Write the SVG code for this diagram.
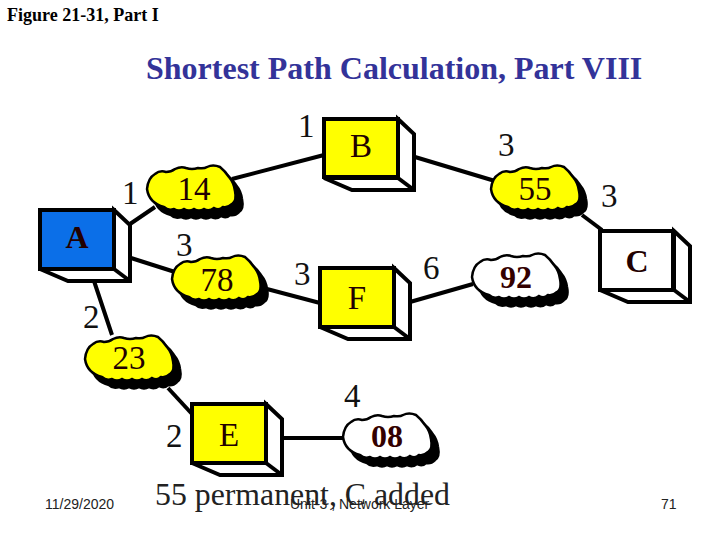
<svg xmlns="http://www.w3.org/2000/svg" width="720" height="540" viewBox="0 0 720 540">
<style>
.s{font-family:"Liberation Serif",serif;fill:#000}
.w{font-size:33px;fill:#111}
.n{font-size:33px;fill:#200}
.l{font-size:32px;fill:#200;font-weight:bold}
.nb{font-size:32px;fill:#300;font-weight:bold}
.f{font-family:"Liberation Sans",Arial,sans-serif;font-size:14px;fill:#222}
.c{stroke:#000;stroke-width:4;fill:none}
.b{stroke:#000;stroke-width:4;stroke-linejoin:miter}
.y{fill:#ffff00}
.e{fill:#fff}
</style>
<defs>
<path id="cloud" d="M0,24 Q1,13 8,9 Q13,5 19,7 Q24,7 28,4 Q34,1 39,3 Q45,5 51,3 Q57,4 60,2 Q66,-1 73,2 Q78,6 82,12 Q87,18 88,26 Q90,36 85,39 Q81,43 76,42 Q72,46 67,43 Q62,47 57,44 Q52,47 47,44 Q42,47 37,44 Q32,47 27,44 Q21,46 17,42 Q2,38 0,24Z"/>
<g id="side"><path class="b" fill="#fff" d="M74,0 L90,15 L90,71 L28,71 L0,59 L74,59 Z"/><path class="b" fill="none" d="M74,59 L90,71"/></g>
<g id="shadow"><use href="#cloud" transform="translate(7,8)" fill="#000" stroke="#000" stroke-width="2.5"/></g>
</defs>
<text class="s" x="7" y="21" font-size="18" font-weight="bold">Figure 21-31, Part I</text>
<text class="s" x="146" y="79" font-size="32" font-weight="bold" style="fill:#333399">Shortest Path Calculation, Part VIII</text>
<g id="connectors">
<path class="c" d="M130,224 L155,207"/>
<path class="c" d="M232,179 L324,155"/>
<path class="c" d="M131,258 L175,272"/>
<path class="c" d="M267,289 L320,303"/>
<path class="c" d="M415,157 L495,181"/>
<path class="c" d="M582,215 L602,230"/>
<path class="c" d="M410,302 L473,284"/>
<path class="c" d="M94,281 L112,335"/>
<path class="c" d="M168,388 L192,414"/>
<path class="c" d="M282,438 L343,438"/>
</g>
<g id="node-A" transform="translate(40,210)"><use href="#side"/><rect class="b" width="74" height="59" fill="#0b6fe8"/><text class="s l" x="37" y="38" text-anchor="middle">A</text></g>
<g id="node-B" transform="translate(324,119)"><use href="#side"/><rect class="b y" width="74" height="58"/><text class="s n" x="37" y="38" text-anchor="middle">B</text></g>
<g id="node-C" transform="translate(600,231)"><use href="#side"/><rect class="b e" width="73" height="59"/><text class="s l" x="37" y="41" text-anchor="middle">C</text></g>
<g id="node-F" transform="translate(320,268)"><use href="#side"/><rect class="b y" width="74" height="59"/><text class="s n" x="37" y="41" text-anchor="middle">F</text></g>
<g id="node-E" transform="translate(192,404)"><use href="#side"/><rect class="b y" width="74" height="59"/><text class="s n" x="37" y="42" text-anchor="middle">E</text></g>
<g id="cloud-14" transform="translate(147,165)"><use href="#shadow"/><use href="#cloud" class="y" stroke="#000" stroke-width="2.5"/><text class="s n" x="47" y="35" text-anchor="middle">14</text></g>
<g id="cloud-78" transform="translate(172,255)"><use href="#shadow"/><use href="#cloud" class="y" stroke="#000" stroke-width="2.5"/><text class="s n" x="45" y="36" text-anchor="middle">78</text></g>
<g id="cloud-55" transform="translate(491,165)"><use href="#shadow"/><use href="#cloud" class="y" stroke="#000" stroke-width="2.5"/><text class="s n" x="44" y="35" text-anchor="middle">55</text></g>
<g id="cloud-92" transform="translate(472,253)"><use href="#shadow"/><use href="#cloud" class="e" stroke="#000" stroke-width="2.5"/><text class="s nb" x="44" y="35" text-anchor="middle">92</text></g>
<g id="cloud-23" transform="translate(85,335)"><use href="#shadow"/><use href="#cloud" class="y" stroke="#000" stroke-width="2.5"/><text class="s n" x="44" y="34" text-anchor="middle">23</text></g>
<g id="cloud-08" transform="translate(343,413)"><use href="#shadow"/><use href="#cloud" class="e" stroke="#000" stroke-width="2.5"/><text class="s nb" x="44" y="34" text-anchor="middle">08</text></g>
<g id="labels">
<text class="s w" x="298" y="137">1</text>
<text class="s w" x="122" y="204">1</text>
<text class="s w" x="176" y="256">3</text>
<text class="s w" x="498" y="156">3</text>
<text class="s w" x="601" y="207">3</text>
<text class="s w" x="294" y="285">3</text>
<text class="s w" x="423" y="279">6</text>
<text class="s w" x="83" y="328">2</text>
<text class="s w" x="344" y="407">4</text>
<text class="s w" x="166" y="447">2</text>
</g>
<text class="s" x="155" y="505" font-size="31.8" style="fill:#222">55 permanent, C added</text>
<text class="f" x="45" y="509">11/29/2020</text>
<text class="f" x="290" y="509">Unit-3 , Network Layer</text>
<text class="f" x="661" y="509">71</text>
</svg>
